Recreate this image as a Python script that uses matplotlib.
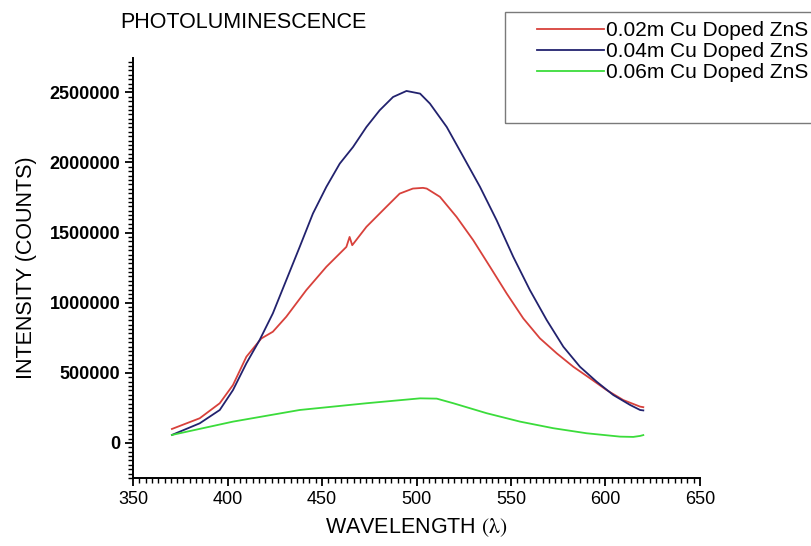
import matplotlib
matplotlib.use("Agg")
import matplotlib.pyplot as plt
from matplotlib.patches import Rectangle
from matplotlib.ticker import MultipleLocator, AutoMinorLocator, StrMethodFormatter
import numpy as np

plt.rcParams['font.family'] = ['Liberation Sans', 'DejaVu Sans']
plt.rcParams['mathtext.fontset'] = 'stix'

# PL spectra, wavelength (nm) vs intensity (counts)
wl_002 = [370.6, 385.3, 395.9, 402.9, 410.0, 417.9, 424.0, 431.1, 441.7, 452.3,
          462.9, 464.6, 466.0, 473.5, 484.0, 491.1, 498.1, 503.4, 505.4, 512.4,
          521.2, 530.0, 538.9, 547.7, 556.5, 565.3, 574.2, 583.0, 591.8, 600.6,
          609.4, 618.3, 620.0]
pl_002 = [99700, 176000, 283000, 413000, 615000, 745000, 793000, 900000, 1090000, 1256000,
          1398000, 1469000, 1410000, 1541000, 1683000, 1778000, 1814000, 1819000, 1814000, 1755000,
          1612000, 1446000, 1256000, 1066000, 888000, 746000, 639000, 543000, 461000, 377000,
          306000, 259000, 255000]

wl_004 = [370.6, 385.3, 395.9, 402.9, 410.0, 417.0, 424.0, 431.1, 438.2, 445.2,
          452.3, 459.4, 466.4, 473.5, 480.5, 487.6, 494.7, 501.9, 507.1, 516.0,
          524.8, 533.6, 542.4, 551.2, 560.0, 568.9, 577.7, 586.5, 595.3, 604.1,
          613.0, 618.3, 620.0]
pl_004 = [57000, 140000, 235000, 377000, 568000, 734000, 924000, 1161000, 1398000, 1636000,
          1826000, 1992000, 2110000, 2253000, 2372000, 2467000, 2510000, 2491000, 2420000, 2253000,
          2040000, 1826000, 1588000, 1327000, 1090000, 876000, 686000, 543000, 437000, 342000,
          271000, 235000, 232000]

wl_006 = [370.6, 402.9, 438.2, 473.5, 501.9, 510.7, 519.5, 537.1, 554.8, 572.4,
          590.0, 607.7, 614.7, 618.3, 620.0]
pl_006 = [57000, 152000, 235000, 283000, 318000, 316000, 283000, 212000, 152000, 105000,
          69000, 45000, 43000, 50000, 56000]

labels = ['0.02m Cu Doped ZnS', '0.04m Cu Doped ZnS', '0.06m Cu Doped ZnS']
colors = ['#d8413b', '#22226e', '#3bdc3b']

fig = plt.figure(figsize=(8.12, 5.46), dpi=100)
ax = fig.add_axes([133/812, 1 - 478/546, 567/812, 420/546])

ax.plot(wl_002, pl_002, color=colors[0], lw=1.3, label=labels[0])
ax.plot(wl_004, pl_004, color=colors[1], lw=1.3, label=labels[1])
ax.plot(wl_006, pl_006, color=colors[2], lw=1.3, label=labels[2])

ax.set_xlim(350, 650)
ax.set_ylim(-250000, 2745000)
ax.xaxis.set_major_locator(MultipleLocator(50))
ax.xaxis.set_minor_locator(AutoMinorLocator(15))
ax.yaxis.set_major_locator(MultipleLocator(500000))
ax.yaxis.set_minor_locator(AutoMinorLocator(16))
ax.yaxis.set_major_formatter(StrMethodFormatter('{x:.0f}'))

for s in ['top', 'right']:
    ax.spines[s].set_visible(False)
for s in ['left', 'bottom']:
    ax.spines[s].set_linewidth(1.4)
ax.tick_params(which='major', direction='out', length=6, width=1.3, labelsize=13)
ax.tick_params(which='minor', direction='out', length=3.5, width=1.0)
ax.tick_params(axis='y', labelsize=13, pad=3)
for t in ax.get_yticklabels():
    t.set_fontweight('bold')

ax.set_xlabel(r'WAVELENGTH $\mathrm{(\lambda)}$', fontsize=15.5, labelpad=6)
ax.set_ylabel('INTENSITY (COUNTS)', fontsize=15.5, labelpad=9)

fig.text(120/812, 1 - 22/546, 'PHOTOLUMINESCENCE', fontsize=15.5, va='center', ha='left')

# legend box runs off the right edge
fig.patches.append(Rectangle((505/812, 1 - 123/546), 0.5, 111/546,
                             transform=fig.transFigure, fill=False,
                             edgecolor='#7a7a7a', lw=1.0))
fig.legend(loc='upper left', bbox_to_anchor=(537/812, 1 - 21/546), frameon=False,
           fontsize=15, handlelength=3.2, handletextpad=0.1, borderpad=0,
           borderaxespad=0, labelspacing=0.1)

fig.savefig('out.png', dpi=100)
